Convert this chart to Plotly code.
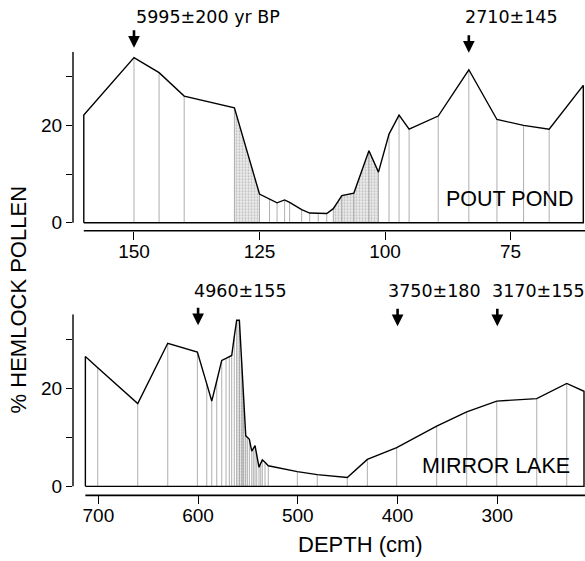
import plotly.graph_objects as go

W, H = 585, 561

# ---------------- data ----------------
pout_depth = [160, 150, 145, 140, 130, 125, 123, 121.5, 120, 119, 116.6, 115, 113.3,
              111.6, 110.3, 108.6, 106.2, 103.2, 101.3, 99.2, 97.2, 95.2, 89.4, 83.3,
              77.7, 72.4, 67.3, 60.5]
pout_pct = [22.1, 33.9, 30.8, 26.0, 23.6, 5.9, 4.9, 4.1, 4.7, 4.2, 2.7, 2.0, 1.95,
            1.9, 2.9, 5.6, 6.1, 14.8, 10.4, 18.2, 22.1, 19.2, 21.9, 31.4,
            21.2, 20.0, 19.2, 28.2]

mirror_depth = [713, 700.6, 660.5, 630.4, 600.7, 591.3, 586.3, 581.3, 576.3, 572.0,
                568.7, 566.3, 563.7, 561.3, 558.6, 556.2, 554.6, 552.2, 550.6, 548.6,
                546.2, 544.6, 542.9, 541.2, 538.9, 537.2, 535.6, 532.9, 529.6, 500.5,
                480.5, 450.4, 430.3, 400.9, 360.8, 330.7, 300.6, 260.5, 230.4, 213.1]
mirror_pct = [26.5, 24.2, 16.9, 29.2, 27.4, 20.9, 17.4, 21.5, 25.7, 26.1,
              26.4, 26.7, 30.6, 33.9, 33.9, 25.1, 19.1, 10.3, 10.0, 9.6,
              7.2, 7.7, 8.3, 6.4, 3.9, 4.7, 5.4, 4.9, 4.2, 3.0,
              2.4, 1.8, 5.5, 7.9, 12.3, 15.2, 17.4, 17.9, 21.0, 19.4]

pout_ticks = [150, 125, 100, 75]
mirror_ticks = [700, 600, 500, 400, 300]
pct_ticks = [0, 10, 20, 30]
pct_labels = ["0", "", "20", ""]

pout_stipple = [(125, 130), (101.3, 110.3)]
mirror_stipple = [(552.2, 561.3)]

dates = [
    # text, panel, arrow depth, text centre px x, text y px, arrow head y px
    ("5995±200 yr BP", 1, 150, 208, 17, 48),
    ("2710±145", 1, 83.3, 511, 17, 53),
    ("4960±155", 2, 600, 240, 293, 327),
    ("3750±180", 2, 400, 434, 293, 328),
    ("3170±155", 2, 300, 538, 293, 328),
]

# ---------------- layout helpers ----------------
def px(x):
    return x / W

def py(y):
    return 1 - y / H

x1_range = [162.15, 60.16]
x2_range = [725.4, 212.1]
y1_range = [-1.63, 35.1]
y2_range = [-1.83, 35.1]

FONT = "Liberation Sans, Arial, sans-serif"

fig = go.Figure()


def add_panel(depth, pct, stip, xa, ya):
    for lo, hi in stip:
        sx = [d for d in depth if lo - 0.01 <= d <= hi + 0.01]
        sy = [v for d, v in zip(depth, pct) if lo - 0.01 <= d <= hi + 0.01]
        fig.add_trace(go.Scatter(
            x=sx, y=sy, xaxis=xa, yaxis=ya, mode="lines", line=dict(width=0),
            fill="tozeroy", fillcolor="rgba(200,200,200,0.35)",
            fillpattern=dict(shape=".", fgcolor="#8a8a8a", size=3, solidity=0.35),
            hoverinfo="skip", showlegend=False))
    vx, vy = [], []
    for d, v in zip(depth[1:-1], pct[1:-1]):
        vx += [d, d, None]
        vy += [0, v, None]
    fig.add_trace(go.Scatter(x=vx, y=vy, xaxis=xa, yaxis=ya, mode="lines",
                             line=dict(color="#9a9a9a", width=0.8),
                             hoverinfo="skip", showlegend=False))
    ox = [depth[0]] + list(depth) + [depth[-1], depth[0]]
    oy = [0] + list(pct) + [0, 0]
    fig.add_trace(go.Scatter(x=ox, y=oy, xaxis=xa, yaxis=ya, mode="lines",
                             line=dict(color="black", width=1.4),
                             hoverinfo="skip", showlegend=False))


add_panel(pout_depth, pout_pct, pout_stipple, "x", "y")
add_panel(mirror_depth, mirror_pct, mirror_stipple, "x2", "y2")

xcommon = dict(showgrid=False, zeroline=False, showline=False, ticks="outside",
               tickcolor="black", tickwidth=1.3, ticklen=8, ticklabelstandoff=-5,
               tickfont=dict(family=FONT, size=19, color="black"), fixedrange=True)
ycommon = dict(showgrid=False, zeroline=False, showline=False, ticks="outside",
               tickcolor="black", tickwidth=1.2, ticklen=6,
               tickvals=pct_ticks, ticktext=pct_labels,
               tickfont=dict(family=FONT, size=19, color="black"), fixedrange=True)

fig.update_layout(
    width=W, height=H,
    margin=dict(l=0, r=0, t=0, b=0),
    paper_bgcolor="white", plot_bgcolor="white",
    showlegend=False,
    xaxis=dict(domain=[px(73), 1], anchor="y", range=x1_range,
               tickvals=pout_ticks, **xcommon),
    yaxis=dict(domain=[py(232), py(52)], anchor="x", range=y1_range, **ycommon),
    xaxis2=dict(domain=[px(73), 1], anchor="y2", range=x2_range,
                tickvals=mirror_ticks, **xcommon),
    yaxis2=dict(domain=[py(498), py(316)], anchor="x2", range=y2_range, **ycommon),
)

shapes = []
for xa, ya, yr, xr, d0 in [("x", "y", y1_range, x1_range, pout_depth[0]),
                           ("x2", "y2", y2_range, x2_range, mirror_depth[0])]:
    shapes.append(dict(type="line", xref=xa + " domain", yref=ya, x0=0, x1=0,
                       y0=0, y1=yr[1], line=dict(color="black", width=1.4)))
    shapes.append(dict(type="line", xref=xa, yref=ya + " domain", x0=d0, x1=xr[1],
                       y0=0, y1=0, line=dict(color="black", width=1.6)))
fig.update_layout(shapes=shapes)


def label(text, x, y, size, family=FONT, angle=0):
    return dict(text=text, xref="paper", yref="paper", x=px(x), y=py(y),
                showarrow=False, xanchor="center", yanchor="middle", textangle=angle,
                font=dict(family=family, size=size, color="black"))


ann = []
for text, panel, d, tx, ty, hy in dates:
    xa = "x" if panel == 1 else "x2"
    ann.append(label(text, tx, ty, 17.5, family="DejaVu Sans, sans-serif"))
    ann.append(dict(text="", xref=xa, yref="paper", x=d, y=py(hy),
                    showarrow=True, ax=0, ay=-19, axref="pixel", ayref="pixel",
                    arrowhead=2, arrowsize=0.9, arrowwidth=2.6, arrowcolor="black",
                    standoff=0, startstandoff=0))

ann.append(label("POUT POND", 509, 200, 21.5))
ann.append(label("MIRROR LAKE", 496, 469, 21.5))
ann.append(label("% HEMLOCK POLLEN", 18, 302, 22, angle=-90))
ann.append(label("DEPTH (cm)", 360, 547, 22))
fig.update_layout(annotations=ann)

fig.write_html("out.html", config={"displayModeBar": False},
               post_script="document.body.style.margin='0';document.body.style.overflow='hidden';")
